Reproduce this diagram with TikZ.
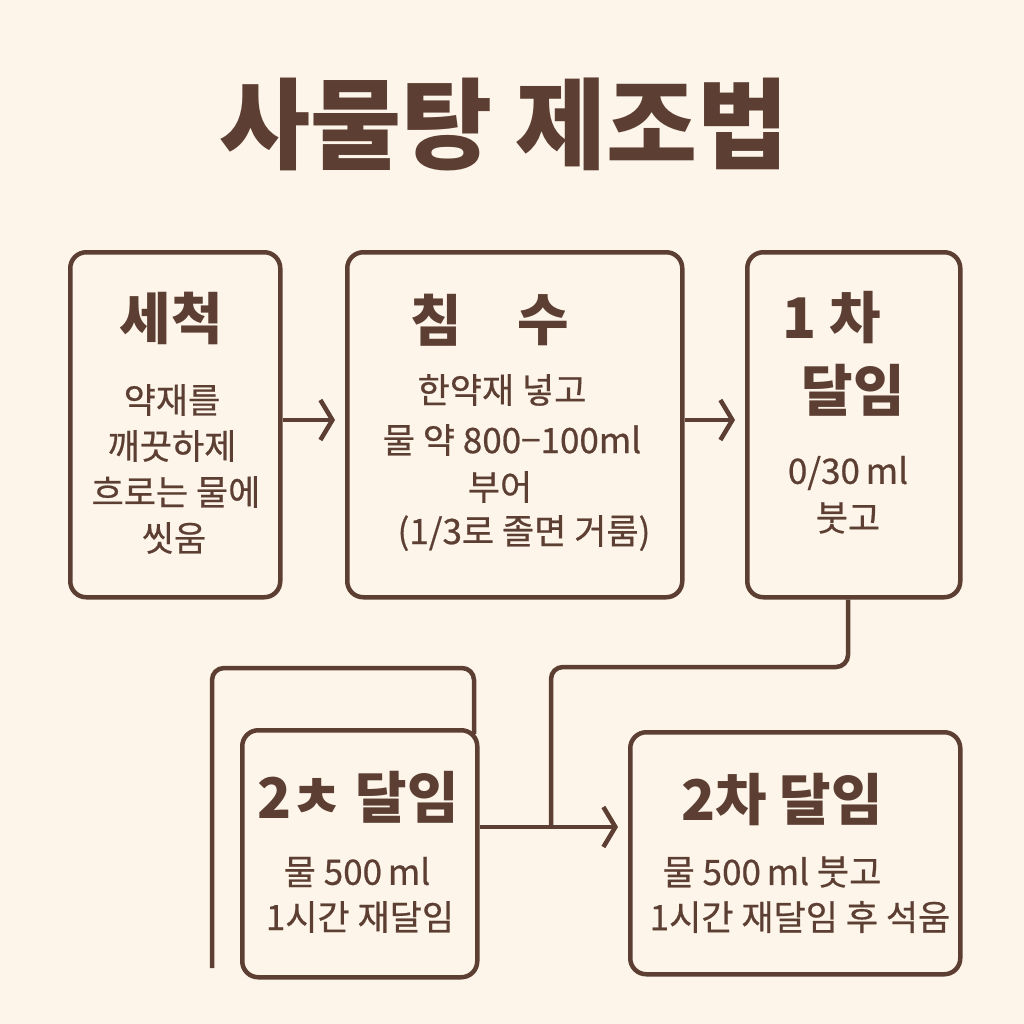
\documentclass[tikz,border=0pt]{standalone}
\usepackage{fontspec}
\setmainfont{Noto Sans CJK KR}
\newfontfamily\krmed[FakeBold=0.6]{Noto Sans CJK KR}
\usetikzlibrary{arrows.meta}
\definecolor{bg}{HTML}{FDF5EA}
\definecolor{ink}{HTML}{5C3E32}
\tikzset{
  box/.style={draw=ink,line width=4.5pt,rounded corners=16pt,inner sep=0pt,anchor=north west},
  head/.style={text=ink,font=\fontsize{56}{60}\selectfont\bfseries,inner sep=0pt},
  body/.style={text=ink,font=\fontsize{35}{40}\krmed,inner sep=0pt},
  conn/.style={draw=ink,line width=4.5pt,rounded corners=12pt},
  arr/.style={draw=ink,line width=4.5pt,-{Straight Barb[length=12pt,width=40pt,line width=4.5pt]}}
}
\begin{document}
\begin{tikzpicture}[x=1pt,y=-1pt]
\fill[bg] (0,0) rectangle (1024,1024);
\useasboundingbox (0,0) rectangle (1024,1024);
\node[text=ink,font=\fontsize{99}{105}\selectfont\bfseries,inner sep=0pt] (title) at (504,124) {사물탕 제조법};
% boxes
\node[box,minimum width=210pt,minimum height=345pt] (b1) at (68,250) {};
\node[box,minimum width=335pt,minimum height=345pt] (b2) at (345,250) {};
\node[box,minimum width=213pt,minimum height=345pt] (b3) at (745,250) {};
\node[box,minimum width=235pt,minimum height=247pt] (b4) at (240,728) {};
\node[box,minimum width=330pt,minimum height=242pt] (b5) at (628,730) {};
% connector helpers
\coordinate (c1) at (848,667);
\coordinate (c2) at (551,667);
\coordinate (c3) at (551,827);
\coordinate (o1) at (212,968);
\coordinate (o2) at (212,668);
\coordinate (o3) at (474,668);
\coordinate (o4) at (474,734);
\coordinate (a1e) at (335,420);
\coordinate (a2e) at (735,420);
\coordinate (a3e) at (618,827);
% arrows
\draw[arr] (b1.east |- a1e) -- (a1e);
\draw[arr] (b2.east |- a2e) -- (a2e);
\draw[arr] (b4.east |- a3e) -- (a3e);
\draw[conn] (b3.south -| c1) -- (c1) -- (c2) -- (c3);
\draw[conn] (o1) -- (o2) -- (o3) -- (o4);
% box 1 text
\node[head] (h1) at (171,318) {세척};
\node[body] (t1a) at (172,400) {약재를};
\node[body] (t1b) at (172,446) {깨끗하제};
\node[body] (t1c) at (176,492) {흐로는 물에};
\node[body] (t1d) at (174,538) {씻움};
% box 2 text
\node[head] (h2a) at (436,320) {침};
\node[head] (h2b) at (543,320) {수};
\node[body] (t2a) at (502,390) {한약재 넣고};
\node[body] (t2b) at (512,440) {물 약 800−100ml};
\node[body] (t2c) at (500,487) {부어};
\node[body] (t2d) at (524,533) {(1/3로 졸면 거룸)};
% box 3 text
\node[head] (h3a) at (832,318) {1 차};
\node[head] (h3b) at (853,390) {달임};
\node[body] (t3a) at (848,473) {0/30\,ml};
\node[body] (t3b) at (848,518) {붓고};
% box 4 text
\node[head] (h4) at (358,797) {2ㅊ 달임};
\node[body] (t4a) at (357,872) {물 500\,ml};
\node[body] (t4b) at (360,917) {1시간 재달임};
% box 5 text
\node[head] (h5) at (782,800) {2차 달임};
\node[body] (t5a) at (772,872) {물 500\,ml 붓고};
\node[body] (t5b) at (800,917) {1시간 재달임 후 석움};
\end{tikzpicture}
\end{document}
